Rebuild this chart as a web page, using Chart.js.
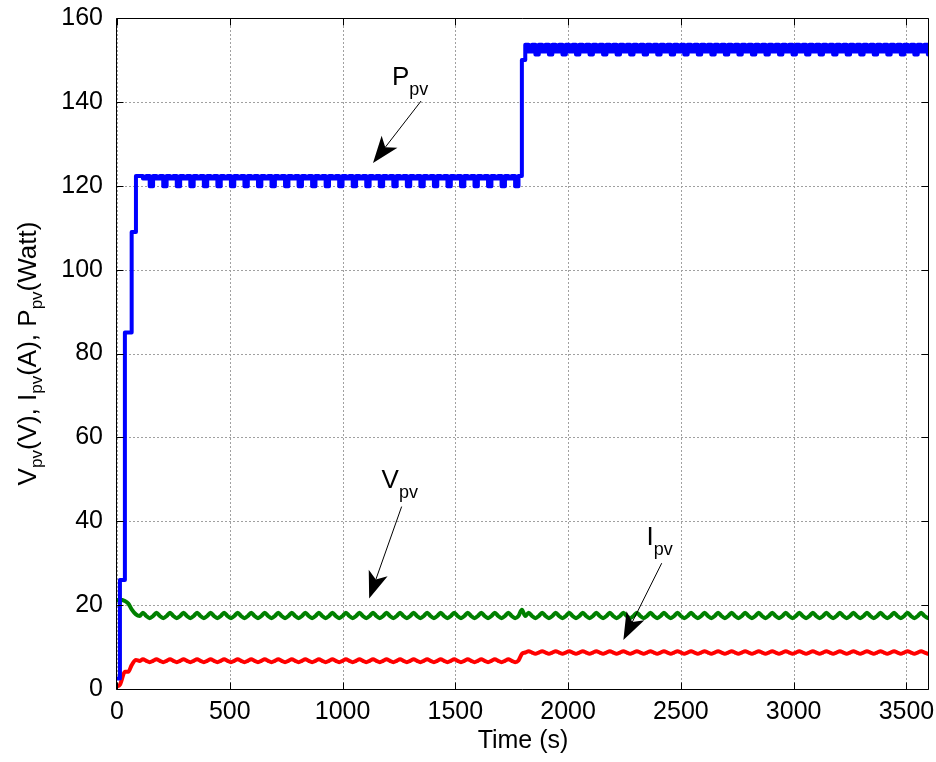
<!DOCTYPE html>
<html>
<head>
<meta charset="utf-8">
<script src="https://cdn.jsdelivr.net/npm/chart.js@4/dist/chart.umd.min.js"></script>
<style>
html,body{margin:0;padding:0;background:#fff;}
#wrap{width:936px;height:762px;position:relative;}
canvas{display:block;}
</style>
</head>
<body>
<div id="wrap"><canvas id="c" width="936" height="762"></canvas></div>
<script>
// ---------------- data ----------------
const time = [
  0, 13, 35, 50, 65, 84,
  100,115,130,145,160,175,190,205,220,235,250,265,280,295,310,325,
  340,355,370,385,400,415,430,445,460,475,490,505,520,535,550,565,
  580,595,610,625,640,655,670,685,700,715,730,745,760,775,790,805,
  820,835,850,865,880,895,910,925,940,955,970,985,1000,1015,1030,1045,
  1060,1075,1090,1105,1120,1135,1150,1165,1180,1195,1210,1225,1240,1255,1270,1285,
  1300,1315,1330,1345,1360,1375,1390,1405,1420,1435,1450,1465,1480,1495,1510,1525,
  1540,1555,1570,1585,1600,1615,1630,1645,1660,1675,1690,1705,1720,1735,1750,1765,
  1780, 1795,
  1810,1825,1840,1855,1870,1885,1900,1915,1930,1945,1960,1975,1990,2005,2020,2035,
  2050,2065,2080,2095,2110,2125,2140,2155,2170,2185,2200,2215,2230,2245,2260,2275,
  2290,2305,2320,2335,2350,2365,2380,2395,2410,2425,2440,2455,2470,2485,2500,2515,
  2530,2545,2560,2575,2590,2605,2620,2635,2650,2665,2680,2695,2710,2725,2740,2755,
  2770,2785,2800,2815,2830,2845,2860,2875,2890,2905,2920,2935,2950,2965,2980,2995,
  3010,3025,3040,3055,3070,3085,3100,3115,3130,3145,3160,3175,3190,3205,3220,3235,
  3250,3265,3280,3295,3310,3325,3340,3355,3370,3385,3400,3415,3430,3445,3460,3475,
  3490,3505,3520,3535,3550,3565,3580,3595
];

const ppv = [
  2.5, 26, 85, 85, 109, 122.3,
  122.3,121.7,122.3,119.9, 122.3,121.7,122.3,119.9, 122.3,121.7,122.3,119.9, 122.3,121.7,122.3,119.9,
  122.3,121.7,122.3,119.9, 122.3,121.7,122.3,119.9, 122.3,121.7,122.3,119.9, 122.3,121.7,122.3,119.9,
  122.3,121.7,122.3,119.9, 122.3,121.7,122.3,119.9, 122.3,121.7,122.3,119.9, 122.3,121.7,122.3,119.9,
  122.3,121.7,122.3,119.9, 122.3,121.7,122.3,119.9, 122.3,121.7,122.3,119.9, 122.3,121.7,122.3,119.9,
  122.3,121.7,122.3,119.9, 122.3,121.7,122.3,119.9, 122.3,121.7,122.3,119.9, 122.3,121.7,122.3,119.9,
  122.3,121.7,122.3,119.9, 122.3,121.7,122.3,119.9, 122.3,121.7,122.3,119.9, 122.3,121.7,122.3,119.9,
  122.3,121.7,122.3,119.9, 122.3,121.7,122.3,119.9, 122.3,121.7,122.3,119.9, 122.3,121.7,122.3,119.9,
  122.3, 150,
  153.6,152.0,153.6,151.3, 153.6,152.0,153.6,151.3, 153.6,152.0,153.6,151.3, 153.6,152.0,153.6,151.3,
  153.6,152.0,153.6,151.3, 153.6,152.0,153.6,151.3, 153.6,152.0,153.6,151.3, 153.6,152.0,153.6,151.3,
  153.6,152.0,153.6,151.3, 153.6,152.0,153.6,151.3, 153.6,152.0,153.6,151.3, 153.6,152.0,153.6,151.3,
  153.6,152.0,153.6,151.3, 153.6,152.0,153.6,151.3, 153.6,152.0,153.6,151.3, 153.6,152.0,153.6,151.3,
  153.6,152.0,153.6,151.3, 153.6,152.0,153.6,151.3, 153.6,152.0,153.6,151.3, 153.6,152.0,153.6,151.3,
  153.6,152.0,153.6,151.3, 153.6,152.0,153.6,151.3, 153.6,152.0,153.6,151.3, 153.6,152.0,153.6,151.3,
  153.6,152.0,153.6,151.3, 153.6,152.0,153.6,151.3, 153.6,152.0,153.6,151.3, 153.6,152.0,153.6,151.3,
  153.6,152.0,153.6,151.3, 153.6,152.0,153.6,151.3
];

const vpv = [
  21.2, 21.3, 21.0, 20.4, 19.0, 17.8,
  17.4,18.2,17.4,16.9, 17.4,18.2,17.4,16.9, 17.4,18.2,17.4,16.9, 17.4,18.2,17.4,16.9,
  17.4,18.2,17.4,16.9, 17.4,18.2,17.4,16.9, 17.4,18.2,17.4,16.9, 17.4,18.2,17.4,16.9,
  17.4,18.2,17.4,16.9, 17.4,18.2,17.4,16.9, 17.4,18.2,17.4,16.9, 17.4,18.2,17.4,16.9,
  17.4,18.2,17.4,16.9, 17.4,18.2,17.4,16.9, 17.4,18.2,17.4,16.9, 17.4,18.2,17.4,16.9,
  17.4,18.2,17.4,16.9, 17.4,18.2,17.4,16.9, 17.4,18.2,17.4,16.9, 17.4,18.2,17.4,16.9,
  17.4,18.2,17.4,16.9, 17.4,18.2,17.4,16.9, 17.4,18.2,17.4,16.9, 17.4,18.2,17.4,16.9,
  17.4,18.2,17.4,16.9, 17.4,18.2,17.4,16.9, 17.4,18.2,17.4,16.9, 17.4,18.2,17.4,16.9,
  17.4, 18.9,
  17.4,18.2,17.4,16.9, 17.4,18.2,17.4,16.9, 17.4,18.2,17.4,16.9, 17.4,18.2,17.4,16.9,
  17.4,18.2,17.4,16.9, 17.4,18.2,17.4,16.9, 17.4,18.2,17.4,16.9, 17.4,18.2,17.4,16.9,
  17.4,18.2,17.4,16.9, 17.4,18.2,17.4,16.9, 17.4,18.2,17.4,16.9, 17.4,18.2,17.4,16.9,
  17.4,18.2,17.4,16.9, 17.4,18.2,17.4,16.9, 17.4,18.2,17.4,16.9, 17.4,18.2,17.4,16.9,
  17.4,18.2,17.4,16.9, 17.4,18.2,17.4,16.9, 17.4,18.2,17.4,16.9, 17.4,18.2,17.4,16.9,
  17.4,18.2,17.4,16.9, 17.4,18.2,17.4,16.9, 17.4,18.2,17.4,16.9, 17.4,18.2,17.4,16.9,
  17.4,18.2,17.4,16.9, 17.4,18.2,17.4,16.9, 17.4,18.2,17.4,16.9, 17.4,18.2,17.4,16.9,
  17.4,18.2,17.4,16.9, 17.4,18.2,17.4,16.9
];

const ipv = [
  0.6, 1.0, 4.1, 4.1, 5.7, 6.9,
  6.7,7.1,6.7,6.4, 6.7,7.1,6.7,6.4, 6.7,7.1,6.7,6.4, 6.7,7.1,6.7,6.4,
  6.7,7.1,6.7,6.4, 6.7,7.1,6.7,6.4, 6.7,7.1,6.7,6.4, 6.7,7.1,6.7,6.4,
  6.7,7.1,6.7,6.4, 6.7,7.1,6.7,6.4, 6.7,7.1,6.7,6.4, 6.7,7.1,6.7,6.4,
  6.7,7.1,6.7,6.4, 6.7,7.1,6.7,6.4, 6.7,7.1,6.7,6.4, 6.7,7.1,6.7,6.4,
  6.7,7.1,6.7,6.4, 6.7,7.1,6.7,6.4, 6.7,7.1,6.7,6.4, 6.7,7.1,6.7,6.4,
  6.7,7.1,6.7,6.4, 6.7,7.1,6.7,6.4, 6.7,7.1,6.7,6.4, 6.7,7.1,6.7,6.4,
  6.7,7.1,6.7,6.4, 6.7,7.1,6.7,6.4, 6.7,7.1,6.7,6.4, 6.7,7.1,6.7,6.4,
  6.8, 8.4,
  8.7,9.0,8.7,8.4, 8.7,9.0,8.7,8.4, 8.7,9.0,8.7,8.4, 8.7,9.0,8.7,8.4,
  8.7,9.0,8.7,8.4, 8.7,9.0,8.7,8.4, 8.7,9.0,8.7,8.4, 8.7,9.0,8.7,8.4,
  8.7,9.0,8.7,8.4, 8.7,9.0,8.7,8.4, 8.7,9.0,8.7,8.4, 8.7,9.0,8.7,8.4,
  8.7,9.0,8.7,8.4, 8.7,9.0,8.7,8.4, 8.7,9.0,8.7,8.4, 8.7,9.0,8.7,8.4,
  8.7,9.0,8.7,8.4, 8.7,9.0,8.7,8.4, 8.7,9.0,8.7,8.4, 8.7,9.0,8.7,8.4,
  8.7,9.0,8.7,8.4, 8.7,9.0,8.7,8.4, 8.7,9.0,8.7,8.4, 8.7,9.0,8.7,8.4,
  8.7,9.0,8.7,8.4, 8.7,9.0,8.7,8.4, 8.7,9.0,8.7,8.4, 8.7,9.0,8.7,8.4,
  8.7,9.0,8.7,8.4, 8.7,9.0,8.7,8.4
];

const xTicks = [0, 500, 1000, 1500, 2000, 2500, 3000, 3500];
const yTicks = [0, 20, 40, 60, 80, 100, 120, 140, 160];
const xLabel = 'Time (s)';
// y-axis label pieces: [text, isSubscript]
const yLabelParts = [['V', false], ['pv', true], ['(V), I', false], ['pv', true], ['(A), P', false], ['pv', true], ['(Watt)', false]];
// arrow annotations (data units): label anchor, arrow tail, arrow tip
const notes = [
  { main: 'P', sub: 'pv', tx: 1219, ty: 144.0, ax: 1348, ay: 140.2, hx: 1135, hy: 125.4 },
  { main: 'V', sub: 'pv', tx: 1173, ty: 47.9, ax: 1262, ay: 43.5, hx: 1118, hy: 21.6 },
  { main: 'I', sub: 'pv', tx: 2348, ty: 34.3, ax: 2415, ay: 30.0, hx: 2245, hy: 11.7 }
];

// ---------------- drawing ----------------
const FONT = "'Liberation Sans', Arial, Helvetica, sans-serif";
const pts = arr => time.map((t, k) => ({ x: t, y: arr[k] }));

function drawRich(ctx, parts, x, y, mainFont, subFont, subDrop) {
  let cx = x;
  parts.forEach(([t, sub]) => {
    ctx.font = sub ? subFont : mainFont;
    ctx.fillText(t, cx, y + (sub ? subDrop : 0));
    cx += ctx.measureText(t).width;
  });
}
function richWidth(ctx, parts, mainFont, subFont) {
  let w = 0;
  parts.forEach(([t, sub]) => { ctx.font = sub ? subFont : mainFont; w += ctx.measureText(t).width; });
  return w;
}

const matlabAxes = {
  id: 'matlabAxes',
  beforeDatasetsDraw(chart) {
    const { ctx, chartArea: a, scales: { x, y } } = chart;
    ctx.save();
    ctx.strokeStyle = '#a0a0a0';
    ctx.lineWidth = 1;
    ctx.setLineDash([2, 2]);
    ctx.beginPath();
    xTicks.forEach(v => {
      const px = Math.round(x.getPixelForValue(v)) + 0.5;
      ctx.moveTo(px, a.top); ctx.lineTo(px, a.bottom);
    });
    yTicks.forEach(v => {
      const py = Math.round(y.getPixelForValue(v)) + 0.5;
      ctx.moveTo(a.left, py); ctx.lineTo(a.right, py);
    });
    ctx.stroke();
    ctx.restore();
  },
  afterDatasetsDraw(chart) {
    const { ctx, chartArea: a, scales: { x, y } } = chart;
    ctx.save();
    ctx.strokeStyle = '#000';
    ctx.lineWidth = 1;
    const L = Math.round(a.left) - 0.5, R = Math.round(a.right) - 0.5;
    const T = Math.round(a.top) + 0.5, B = Math.round(a.bottom) + 0.5;
    const tl = 7;
    ctx.beginPath();
    ctx.rect(L, T, R - L, B - T);
    xTicks.forEach(v => {
      const px = Math.round(x.getPixelForValue(v)) + 0.5;
      ctx.moveTo(px, B); ctx.lineTo(px, B - tl);
      ctx.moveTo(px, T); ctx.lineTo(px, T + tl);
    });
    yTicks.forEach(v => {
      const py = Math.round(y.getPixelForValue(v)) + 0.5;
      ctx.moveTo(L, py); ctx.lineTo(L + tl, py);
      ctx.moveTo(R, py); ctx.lineTo(R - tl, py);
    });
    ctx.stroke();

    // annotations
    ctx.fillStyle = '#000';
    ctx.textBaseline = 'alphabetic';
    ctx.textAlign = 'left';
    notes.forEach(n => {
      const tx = x.getPixelForValue(n.tx), ty = y.getPixelForValue(n.ty);
      drawRich(ctx, [[n.main, false], [n.sub, true]], tx, ty, '26px ' + FONT, '18px ' + FONT, 10);
      const x0 = x.getPixelForValue(n.ax), y0 = y.getPixelForValue(n.ay);
      const x1 = x.getPixelForValue(n.hx), y1 = y.getPixelForValue(n.hy);
      const dx = x1 - x0, dy = y1 - y0, len = Math.hypot(dx, dy);
      const ux = dx / len, uy = dy / len, nx = -uy, ny = ux;
      const HL = 27, HW = 10, NOTCH = 20;
      ctx.beginPath();
      ctx.lineWidth = 1;
      ctx.moveTo(x0, y0);
      ctx.lineTo(x1 - ux * NOTCH, y1 - uy * NOTCH);
      ctx.stroke();
      ctx.beginPath();
      ctx.moveTo(x1, y1);
      ctx.lineTo(x1 - ux * HL + nx * HW, y1 - uy * HL + ny * HW);
      ctx.lineTo(x1 - ux * NOTCH, y1 - uy * NOTCH);
      ctx.lineTo(x1 - ux * HL - nx * HW, y1 - uy * HL - ny * HW);
      ctx.closePath();
      ctx.fill();
    });
    ctx.restore();
  },
  afterDraw(chart) {
    const { ctx, chartArea: a } = chart;
    ctx.save();
    ctx.fillStyle = '#000';
    // x title
    ctx.font = '25px ' + FONT;
    ctx.textAlign = 'center';
    ctx.textBaseline = 'alphabetic';
    ctx.fillText(xLabel, (a.left + a.right) / 2, 748);
    // y title (rotated, with subscripts)
    const mf = '26px ' + FONT, sf = '17px ' + FONT;
    const w = richWidth(ctx, yLabelParts, mf, sf);
    ctx.translate(0, (a.top + a.bottom) / 2);
    ctx.rotate(-Math.PI / 2);
    ctx.textAlign = 'left';
    drawRich(ctx, yLabelParts, -w / 2, 36, mf, sf, 6);
    ctx.restore();
  }
};

const noPad = s => { s.paddingTop = 0; s.paddingBottom = 0; s.paddingLeft = 0; s.paddingRight = 0; };

new Chart(document.getElementById('c'), {
  type: 'line',
  data: {
    datasets: [
      { label: 'Ppv', data: pts(ppv), borderColor: '#0000ff', borderWidth: 4, stepped: true,
        pointRadius: 0, fill: false, borderJoinStyle: 'round', borderCapStyle: 'round' },
      { label: 'Vpv', data: pts(vpv), borderColor: '#008000', borderWidth: 4, cubicInterpolationMode: 'monotone',
        pointRadius: 0, fill: false, borderJoinStyle: 'round', borderCapStyle: 'round' },
      { label: 'Ipv', data: pts(ipv), borderColor: '#ff0000', borderWidth: 4, cubicInterpolationMode: 'monotone',
        pointRadius: 0, fill: false, borderJoinStyle: 'round', borderCapStyle: 'round' }
    ]
  },
  options: {
    responsive: false,
    animation: false,
    devicePixelRatio: 1,
    layout: { padding: { top: 18, right: 7, left: 0, bottom: 0 } },
    plugins: { legend: { display: false }, tooltip: { enabled: false } },
    scales: {
      x: {
        type: 'linear', min: 0, max: 3600,
        afterBuildTicks: s => { s.ticks = xTicks.map(v => ({ value: v })); },
        afterFit: s => { s.height = 73; noPad(s); },
        ticks: { font: { family: FONT, size: 25 }, color: '#000', padding: 8, maxRotation: 0, autoSkip: false,
                 callback: v => String(v) },
        grid: { display: false, drawTicks: false },
        border: { display: false }
      },
      y: {
        type: 'linear', min: 0, max: 160,
        afterBuildTicks: s => { s.ticks = yTicks.map(v => ({ value: v })); },
        afterFit: s => { s.width = 117; noPad(s); },
        ticks: { font: { family: FONT, size: 25 }, color: '#000', padding: 14, autoSkip: false,
                 callback: v => String(v) },
        grid: { display: false, drawTicks: false },
        border: { display: false }
      }
    }
  },
  plugins: [matlabAxes]
});
</script>
</body>
</html>
